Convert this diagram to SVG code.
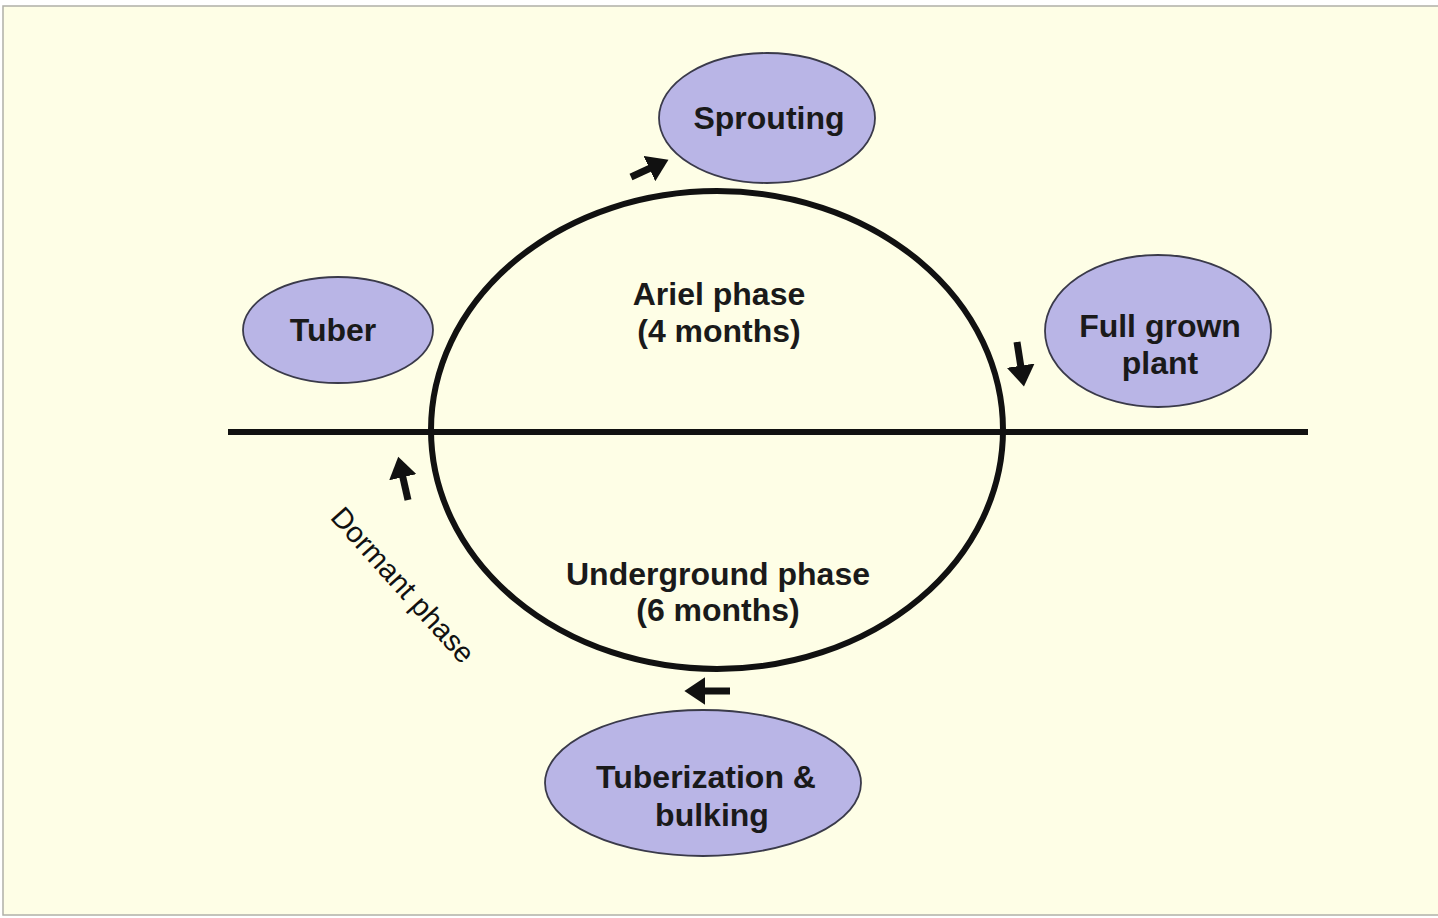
<svg xmlns="http://www.w3.org/2000/svg" width="1438" height="918" viewBox="0 0 1438 918">
<defs>
<style>
.node{fill:#b9b5e6;stroke:#3a3a4a;stroke-width:1.8}
.lbl{font-family:"Liberation Sans",Arial,sans-serif;font-weight:bold;font-size:32px;fill:#1a1a1a;text-anchor:middle}
.plain{font-family:"Liberation Sans",Arial,sans-serif;font-size:29px;fill:#111;text-anchor:middle}
.arr{stroke:#111;stroke-width:7;fill:none;marker-end:url(#ah)}
</style>
<marker id="ah" markerWidth="4" markerHeight="4" refX="1.2" refY="2" orient="auto" markerUnits="strokeWidth">
<path d="M0,0 L3,2 L0,4 Z" fill="#111"/>
</marker>
</defs>
<rect x="0" y="0" width="1438" height="918" fill="#ffffff"/>
<rect x="3" y="6" width="1436" height="909" fill="#fefee6" stroke="#b0b0a8" stroke-width="1.5"/>
<g id="cycle">
<ellipse cx="717" cy="430" rx="286" ry="239" fill="none" stroke="#111" stroke-width="6"/>
<line x1="228" y1="432" x2="1308" y2="432" stroke="#111" stroke-width="6"/>
<text class="lbl" x="719" y="305">Ariel phase</text>
<text class="lbl" x="719" y="342">(4 months)</text>
<text class="lbl" x="718" y="585">Underground phase</text>
<text class="lbl" x="718" y="621">(6 months)</text>
</g>
<g id="sprouting">
<ellipse class="node" cx="767" cy="118" rx="108" ry="65"/>
<text class="lbl" x="769" y="129">Sprouting</text>
</g>
<g id="tuber">
<ellipse class="node" cx="338" cy="330" rx="95" ry="53"/>
<text class="lbl" x="333" y="341">Tuber</text>
</g>
<g id="fullgrown">
<ellipse class="node" cx="1158" cy="331" rx="113" ry="76"/>
<text class="lbl" x="1160" y="337">Full grown</text>
<text class="lbl" x="1160" y="374">plant</text>
</g>
<g id="tuberization">
<ellipse class="node" cx="703" cy="783" rx="158" ry="73"/>
<text class="lbl" x="706" y="788">Tuberization &amp;</text>
<text class="lbl" x="712" y="826">bulking</text>
</g>
<g id="dormant">
<text class="plain" transform="translate(403,585) rotate(48)" x="0" y="10">Dormant phase</text>
</g>
<g id="connectors">
<line class="arr" x1="631" y1="177" x2="657" y2="165"/>
<line class="arr" x1="1017" y1="342" x2="1022" y2="374"/>
<line class="arr" x1="730" y1="691" x2="697" y2="691"/>
<line class="arr" x1="408" y1="500" x2="401" y2="469"/>
</g>
</svg>
